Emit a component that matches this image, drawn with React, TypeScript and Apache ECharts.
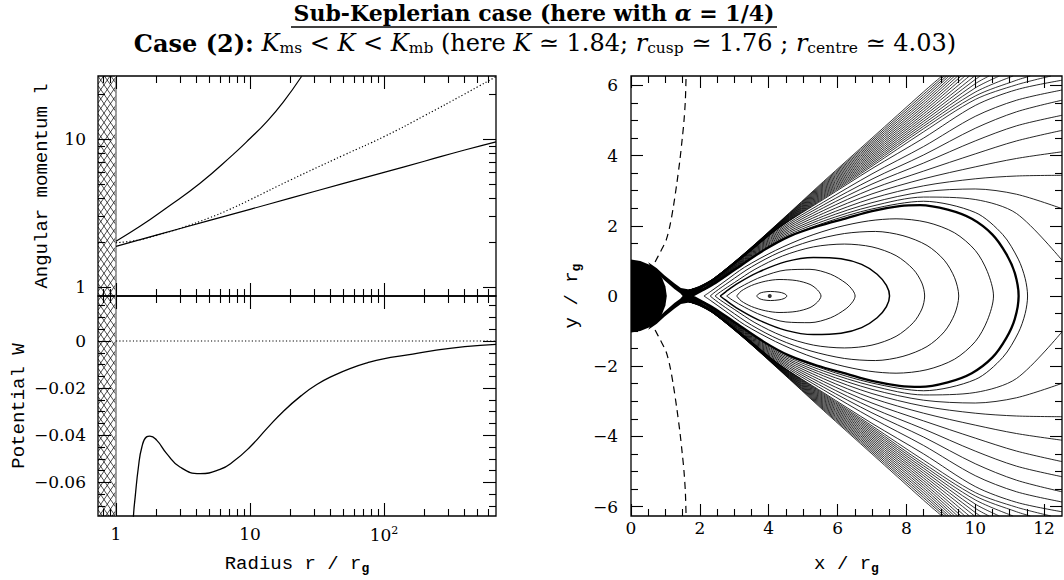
import React, { useEffect, useRef } from "react";
import * as echarts from "echarts";

type P = [number, number];

/* ---------------- Top-left panel: angular momentum l(r), log-log ---------------- */
const radiusSteep = [1, 1.51, 2.39, 4.24, 7.5, 10, 13.3, 17.7, 24.3];
const momentumSteep = [2.05, 2.58, 3.45, 5.04, 7.9, 10.1, 13.1, 17.8, 26.6];
const radiusPower = [1, 2, 5, 10, 20, 50, 100, 200, 400, 685];
const momentumPower = [1.89, 2.25, 2.83, 3.36, 4.0, 5.03, 5.97, 7.1, 8.45, 9.6];
const radiusKepler = [1, 1.3, 1.6, 2, 3, 5, 7, 10, 20, 50, 100, 200, 400, 685];
const momentumKepler = [2.0, 2.05, 2.12, 2.24, 2.5, 2.95, 3.35, 3.9, 5.3, 7.8, 10.4, 14.4, 20.2, 26.4];

/* ---------------- Bottom-left panel: potential W(r) ---------------- */
const radiusW = [1.33, 1.35, 1.39, 1.47, 1.56, 1.69, 1.79, 2.01, 2.39, 3.0, 4.24, 5.97, 7.5, 10, 13.5, 17.7, 24, 31.5, 42, 55.7, 75, 98.9, 150, 233, 400, 685];
const potentialW = [-0.085, -0.0743, -0.0663, -0.0535, -0.045, -0.0407, -0.0404, -0.0421, -0.0478, -0.0535, -0.0563, -0.0545, -0.0512, -0.045, -0.0369, -0.0299, -0.0233, -0.0185, -0.0147, -0.0117, -0.0093, -0.0076, -0.0059, -0.0041, -0.0024, -0.0014];
const radiusZero = [1, 685];
const potentialZero = [0, 0];
const horizonRadius = 1;

/* ---------------- Tick values ---------------- */
const radiusMajorTicks = [1, 10, 100];
const radiusMinorTicks = [0.8, 0.9, 2, 3, 4, 5, 6, 7, 8, 9, 20, 30, 40, 50, 60, 70, 80, 90, 200, 300, 400, 500, 600];
const momentumMajorTicks = [1, 10];
const momentumMinorTicks = [2, 3, 4, 5, 6, 7, 8, 9, 20];
const potentialMajorTicks = [0, -0.02, -0.04, -0.06];
const potentialMinorTicks = [0.015, 0.01, 0.005, -0.005, -0.01, -0.015, -0.025, -0.03, -0.035, -0.045, -0.05, -0.055, -0.065, -0.07];
const planeXMajorTicks = [0, 2, 4, 6, 8, 10, 12];
const planeXMinorTicks = [0.5, 1, 1.5, 2.5, 3, 3.5, 4.5, 5, 5.5, 6.5, 7, 7.5, 8.5, 9, 9.5, 10.5, 11, 11.5];
const planeYMajorTicks = [-6, -4, -2, 0, 2, 4, 6];
const planeYMinorTicks = [-5.5, -5, -4.5, -3.5, -3, -2.5, -1.5, -1, -0.5, 0.5, 1, 1.5, 2.5, 3, 3.5, 4.5, 5, 5.5];

/* ---------------- Right panel: equipotentials (upper halves, mirrored) ---------------- */
const blackHoleUpper: P[] = [[0, 1.04], [0.27, 1.0], [0.52, 0.9], [0.74, 0.74], [0.9, 0.52], [1.0, 0.27], [1.04, 0]];
const hornOuterUpper: P[] = [[0.5, 0.96], [0.75, 0.79], [0.97, 0.59], [1.26, 0.36], [1.45, 0.23], [1.65, 0.19], [1.85, 0.2], [2.05, 0.26]];
const hornNeckUpper: P[] = [[2.05, 0.15], [1.76, 0]];
const hornInnerUpper: P[] = [[0.55, 0.86], [0.75, 0.66], [0.97, 0.45], [1.26, 0.2], [1.43, 0.08], [1.5, 0]];

const closedC1: P[] = [[3.65, 0], [3.72, 0.07], [3.85, 0.11], [4.05, 0.13], [4.3, 0.11], [4.45, 0.07], [4.53, 0]];
const closedC2: P[] = [[3.07, 0], [3.2, 0.14], [3.5, 0.3], [3.9, 0.42], [4.3, 0.47], [4.8, 0.44], [5.2, 0.33], [5.42, 0.17], [5.52, 0]];
const closedC3: P[] = [[2.78, 0], [2.95, 0.12], [3.3, 0.32], [3.8, 0.55], [4.5, 0.74], [5.2, 0.76], [5.8, 0.62], [6.25, 0.36], [6.45, 0.15], [6.51, 0]];
const closedC4: P[] = [[2.59, 0], [2.75, 0.12], [3.1, 0.36], [3.7, 0.68], [4.5, 0.98], [5.3, 1.1], [6.1, 1.06], [6.7, 0.9], [7.15, 0.62], [7.42, 0.3], [7.51, 0]];
const closedC5: P[] = [[2.44, 0], [2.6, 0.12], [3.0, 0.38], [3.6, 0.76], [4.4, 1.14], [5.3, 1.4], [6.2, 1.48], [7.0, 1.4], [7.7, 1.15], [8.2, 0.76], [8.45, 0.37], [8.53, 0]];
const closedC6: P[] = [[2.3, 0], [2.45, 0.12], [2.85, 0.4], [3.5, 0.83], [4.3, 1.24], [5.2, 1.56], [6.2, 1.78], [7.1, 1.84], [7.9, 1.72], [8.6, 1.44], [9.1, 1.02], [9.4, 0.52], [9.52, 0]];
const closedC7: P[] = [[2.12, 0], [2.3, 0.12], [2.7, 0.4], [3.3, 0.82], [4.2, 1.3], [5.1, 1.68], [6.0, 1.96], [6.9, 2.14], [7.7, 2.2], [8.6, 2.1], [9.4, 1.8], [10.0, 1.3], [10.35, 0.7], [10.53, 0]];
const cuspContour: P[] = [[1.76, 0], [2.0, 0.12], [2.4, 0.34], [3.0, 0.74], [3.85, 1.3], [4.6, 1.7], [5.4, 1.98], [6.27, 2.22], [7.0, 2.42], [7.8, 2.56], [8.4, 2.59], [9.2, 2.46], [9.9, 2.2], [10.5, 1.75], [10.9, 1.2], [11.15, 0.65], [11.26, 0]];
const closedOuter: P[] = [[1.7, 0.17], [2.0, 0.14], [2.4, 0.355], [3.3, 0.95], [4.3, 1.58], [5.6, 2.08], [7.0, 2.48], [8.5, 2.7], [10.0, 2.38], [10.8, 1.75], [11.25, 1.05], [11.45, 0.5], [11.52, 0]];

const rightExitX = [1.7, 2.0, 2.4, 3.3, 4.3, 5.6, 7.0, 8.5, 10.0, 11.2, 12.52];
const rightExitY: number[][] = [
  [0.17, 0.185, 0.445, 1.13, 1.94, 2.76, 3.63, 4.5, 5.43, 5.88, 6.15],
  [0.17, 0.18, 0.435, 1.11, 1.9, 2.68, 3.48, 4.26, 5.12, 5.58, 5.87],
  [0.17, 0.175, 0.425, 1.09, 1.86, 2.6, 3.33, 4.02, 4.78, 5.25, 5.58],
  [0.17, 0.17, 0.415, 1.07, 1.82, 2.52, 3.19, 3.79, 4.42, 4.85, 5.15],
  [0.17, 0.165, 0.405, 1.05, 1.78, 2.44, 3.05, 3.56, 4.05, 4.42, 4.72],
  [0.17, 0.16, 0.395, 1.03, 1.74, 2.36, 2.91, 3.34, 3.68, 3.92, 4.11],
  [0.17, 0.155, 0.385, 1.01, 1.7, 2.28, 2.78, 3.14, 3.34, 3.42, 3.44],
  [0.17, 0.15, 0.375, 0.99, 1.66, 2.21, 2.66, 2.97, 3.05, 2.9, 2.49],
  [0.17, 0.145, 0.365, 0.97, 1.62, 2.14, 2.56, 2.82, 2.75, 2.35, 1.02],
];

const topExitLines: P[][] = [
  [[1.7, 0.17], [2.0, 0.28], [2.4, 0.5], [3.3, 1.22], [4.3, 2.1], [5.6, 3.27], [7.0, 4.5], [8.5, 5.82], [9.03, 6.27]],
  [[1.7, 0.17], [2.0, 0.275], [2.4, 0.497], [3.3, 1.215], [4.3, 2.09], [5.6, 3.24], [7.0, 4.45], [8.5, 5.75], [9.1, 6.27]],
  [[1.7, 0.17], [2.0, 0.27], [2.4, 0.494], [3.3, 1.21], [4.3, 2.08], [5.6, 3.21], [7.0, 4.4], [8.5, 5.68], [9.17, 6.27]],
  [[1.7, 0.17], [2.0, 0.265], [2.4, 0.491], [3.3, 1.205], [4.3, 2.07], [5.6, 3.18], [7.0, 4.35], [8.5, 5.61], [9.24, 6.27]],
  [[1.7, 0.17], [2.0, 0.26], [2.4, 0.488], [3.3, 1.2], [4.3, 2.06], [5.6, 3.15], [7.0, 4.3], [8.5, 5.54], [9.32, 6.27]],
  [[1.7, 0.17], [2.0, 0.255], [2.4, 0.485], [3.3, 1.195], [4.3, 2.05], [5.6, 3.12], [7.0, 4.25], [8.5, 5.47], [9.4, 6.27]],
  [[1.7, 0.17], [2.0, 0.25], [2.4, 0.482], [3.3, 1.19], [4.3, 2.04], [5.6, 3.09], [7.0, 4.2], [8.5, 5.4], [9.49, 6.27]],
  [[1.7, 0.17], [2.0, 0.245], [2.4, 0.479], [3.3, 1.185], [4.3, 2.03], [5.6, 3.06], [7.0, 4.15], [8.5, 5.33], [9.59, 6.27]],
  [[1.7, 0.17], [2.0, 0.24], [2.4, 0.476], [3.3, 1.18], [4.3, 2.02], [5.6, 3.03], [7.0, 4.1], [8.5, 5.26], [9.7, 6.27]],
  [[1.7, 0.17], [2.0, 0.235], [2.4, 0.473], [3.3, 1.175], [4.3, 2.01], [5.6, 3.0], [7.0, 4.05], [8.5, 5.19], [9.83, 6.27]],
  [[1.7, 0.17], [2.0, 0.23], [2.4, 0.47], [3.3, 1.17], [4.3, 2.0], [5.6, 2.97], [7.0, 4.0], [8.5, 5.12], [9.98, 6.27]],
  [[1.7, 0.17], [2.0, 0.225], [2.4, 0.467], [3.3, 1.165], [4.3, 1.99], [5.6, 2.94], [7.0, 3.95], [8.5, 5.05], [10.0, 6.17], [10.15, 6.27]],
  [[1.7, 0.17], [2.0, 0.22], [2.4, 0.464], [3.3, 1.16], [4.3, 1.98], [5.6, 2.91], [7.0, 3.9], [8.5, 4.98], [10.0, 6.05], [10.4, 6.27]],
  [[1.7, 0.17], [2.0, 0.215], [2.4, 0.461], [3.3, 1.155], [4.3, 1.97], [5.6, 2.88], [7.0, 3.85], [8.5, 4.91], [10.0, 5.93], [10.7, 6.27]],
  [[1.7, 0.17], [2.0, 0.21], [2.4, 0.458], [3.3, 1.15], [4.3, 1.96], [5.6, 2.85], [7.0, 3.8], [8.5, 4.84], [10.0, 5.81], [11.1, 6.27]],
  [[1.7, 0.17], [2.0, 0.205], [2.4, 0.455], [3.3, 1.145], [4.3, 1.95], [5.6, 2.82], [7.0, 3.75], [8.5, 4.77], [10.0, 5.7], [11.2, 6.15], [11.6, 6.27]],
  [[1.7, 0.17], [2.0, 0.2], [2.4, 0.452], [3.3, 1.14], [4.3, 1.945], [5.6, 2.79], [7.0, 3.7], [8.5, 4.68], [10.0, 5.6], [11.2, 6.02], [12.2, 6.27]],
];

const dashedUpper: P[] = [[0.7, 0.97], [0.85, 1.25], [1.02, 1.59], [1.13, 2.0], [1.23, 2.54], [1.33, 3.2], [1.42, 3.87], [1.49, 4.5], [1.54, 5.0], [1.58, 5.6], [1.6, 6.27]];
const centrePoint: P[] = [[4.03, 0]];

/* ---------------- helpers ---------------- */
const BLACK = "#000";
const zip = (xs: number[], ys: number[]): P[] => xs.map((x, i) => [x, ys[i]] as P);
const mirror = (pts: P[]): P[] => pts.map(([x, y]) => [x, -y] as P);
const closedLoop = (upper: P[]): P[] => [...upper, ...mirror(upper).reverse().slice(1)];

const supRich = { sup: { fontFamily: "DejaVu Serif", fontSize: 11, color: BLACK, padding: [0, 0, 9, 0] } };
const nameStyle = {
  fontFamily: "Liberation Mono",
  fontSize: 19,
  color: BLACK,
  rich: {
    t: { fontFamily: "Liberation Mono", fontSize: 19, color: BLACK },
    g: { fontFamily: "Liberation Mono", fontSize: 13, fontWeight: "bold", color: BLACK, padding: [10, 0, 0, 0] },
  },
};

interface AxisSpec {
  grid: number;
  type: "log" | "value";
  min: number;
  max: number;
  position: string;
  ticks: number[];
  len: number;
  labels?: boolean;
  formatter?: (v: number) => string;
  margin?: number;
  name?: string;
  nameGap?: number;
  nameRotate?: number;
}

const mkAxis = (o: AxisSpec) => ({
  type: o.type,
  gridIndex: o.grid,
  min: o.min,
  max: o.max,
  position: o.position,
  splitLine: { show: false },
  axisLine: { show: false, onZero: false },
  axisTick: { show: true, inside: true, length: o.len, lineStyle: { color: BLACK, width: 1.1 }, customValues: o.ticks },
  axisLabel: o.labels
    ? { show: true, customValues: o.ticks, formatter: o.formatter, margin: o.margin, color: BLACK, fontFamily: "DejaVu Serif", fontSize: 17, rich: supRich }
    : { show: false },
  name: o.name,
  nameLocation: "middle",
  nameGap: o.nameGap,
  nameRotate: o.nameRotate,
  nameTextStyle: nameStyle,
  silent: true,
  z: 5,
});

const fmtRadius = (v: number) => (v > 50 ? "10{sup|2}" : String(Math.round(v)));
const fmtMomentum = (v: number) => String(Math.round(v));
const fmtPotential = (v: number) => (Math.abs(v) < 1e-9 ? "0" : "\u2212" + Math.abs(v).toFixed(2));
const fmtPlane = (v: number) => (v < 0 ? "\u2212" + Math.abs(v) : String(v));

const R_MIN = 0.734, R_MAX = 685;
const L_MIN = 0.874, L_MAX = 26.7;
const W_MIN = -0.0743, W_MAX = 0.0191;
const X_MIN = 0, X_MAX = 12.52;
const Y_MIN = -6.27, Y_MAX = 6.27;

const hatchRender = (refY: number) => (params: any, api: any) => {
  const cs = params.coordSys;
  const xL = cs.x;
  const yT = cs.y;
  const yB = cs.y + cs.height;
  const xR = api.coord([horizonRadius, refY])[0];
  const s = 1.45;
  const step = 6.5;
  const children: any[] = [];
  const seg = (x1: number, y1: number, x2: number, y2: number) => ({
    type: "line",
    shape: { x1, y1, x2, y2 },
    style: { stroke: BLACK, lineWidth: 0.7 },
  });
  const cStart = Math.floor((xL - yB / s) / step) * step;
  for (let c = cStart; c < xR + yB / s + step; c += step) {
    const a0 = Math.max(c + yT / s, xL);
    const a1 = Math.min(c + yB / s, xR);
    if (a1 > a0) children.push(seg(a0, s * (a0 - c), a1, s * (a1 - c)));
    const b0 = Math.max(c - yB / s, xL);
    const b1 = Math.min(c - yT / s, xR);
    if (b1 > b0) children.push(seg(b0, s * (c - b0), b1, s * (c - b1)));
  }
  children.push({ type: "line", shape: { x1: xR, y1: yT, x2: xR, y2: yB }, style: { stroke: "#8a8a8a", lineWidth: 1.6 } });
  return { type: "group", children };
};

const polygonRender = (pts: P[]) => (_params: any, api: any) => ({
  type: "polygon",
  shape: { points: pts.map((p) => api.coord(p)) },
  style: { fill: BLACK },
});

const lineSeries = (data: P[], axisIdx: number, width = 1, extra: any = {}) => ({
  type: "line",
  xAxisIndex: axisIdx,
  yAxisIndex: axisIdx,
  data,
  showSymbol: false,
  symbol: "none",
  silent: true,
  clip: true,
  smooth: extra.smooth ?? 0.3,
  lineStyle: { color: BLACK, width, type: extra.type ?? "solid" },
  z: extra.z ?? 3,
});

function buildOption() {
  const blackHole: P[] = [...blackHoleUpper, ...mirror(blackHoleUpper).reverse().slice(1)];
  const horn: P[] = [
    ...hornOuterUpper,
    ...hornNeckUpper,
    ...mirror(hornNeckUpper).reverse().slice(1),
    ...mirror(hornOuterUpper).reverse(),
    ...mirror(hornInnerUpper).slice(0, -1),
    ...hornInnerUpper.slice().reverse(),
  ];

  const series: any[] = [];
  // left panels
  series.push({ type: "custom", xAxisIndex: 0, yAxisIndex: 0, data: [[1, 1]], renderItem: hatchRender(1), clip: true, silent: true, z: 2 });
  series.push({ type: "custom", xAxisIndex: 4, yAxisIndex: 4, data: [[1, 0]], renderItem: hatchRender(0), clip: true, silent: true, z: 2 });
  series.push(lineSeries(zip(radiusSteep, momentumSteep), 0, 1.2, { smooth: 0.5 }));
  series.push(lineSeries(zip(radiusPower, momentumPower), 0, 1.2, { smooth: 0.5 }));
  series.push(lineSeries(zip(radiusKepler, momentumKepler), 0, 1.2, { type: [1.2, 2.2], smooth: 0.5 }));
  series.push(lineSeries(zip(radiusZero, potentialZero), 4, 1.2, { type: [1.2, 2.2] }));
  series.push(lineSeries(zip(radiusW, potentialW), 4, 1.3, { smooth: 0.5 }));

  // right panel
  series.push({ type: "custom", xAxisIndex: 8, yAxisIndex: 8, data: [[0, 0]], renderItem: polygonRender(blackHole), clip: true, silent: true, z: 4 });
  series.push({ type: "custom", xAxisIndex: 8, yAxisIndex: 8, data: [[0, 0]], renderItem: polygonRender(horn), clip: true, silent: true, z: 4 });
  const closedThin = [closedC1, closedC2, closedC3, closedC5, closedC6, closedC7, closedOuter];
  closedThin.forEach((c) => series.push(lineSeries(closedLoop(c), 8, 0.9)));
  series.push(lineSeries(closedLoop(closedC4), 8, 1.5));
  series.push(lineSeries(closedLoop(cuspContour), 8, 2.3, { z: 4 }));
  rightExitY.forEach((ys) => {
    const upper = zip(rightExitX, ys);
    series.push(lineSeries(upper, 8, 0.85));
    series.push(lineSeries(mirror(upper), 8, 0.85));
  });
  topExitLines.forEach((upper) => {
    series.push(lineSeries(upper, 8, 0.8));
    series.push(lineSeries(mirror(upper), 8, 0.8));
  });
  series.push(lineSeries(dashedUpper, 8, 1.2, { type: [7, 5] }));
  series.push(lineSeries(mirror(dashedUpper), 8, 1.2, { type: [7, 5] }));
  series.push({
    type: "scatter",
    xAxisIndex: 8,
    yAxisIndex: 8,
    data: centrePoint,
    symbolSize: 4,
    itemStyle: { color: BLACK },
    silent: true,
    z: 6,
  });

  const xAxis = [
    mkAxis({ grid: 0, type: "log", min: R_MIN, max: R_MAX, position: "bottom", ticks: radiusMajorTicks, len: 13 }),
    mkAxis({ grid: 0, type: "log", min: R_MIN, max: R_MAX, position: "bottom", ticks: radiusMinorTicks, len: 7 }),
    mkAxis({ grid: 0, type: "log", min: R_MIN, max: R_MAX, position: "top", ticks: radiusMajorTicks, len: 13 }),
    mkAxis({ grid: 0, type: "log", min: R_MIN, max: R_MAX, position: "top", ticks: radiusMinorTicks, len: 7 }),
    mkAxis({
      grid: 1, type: "log", min: R_MIN, max: R_MAX, position: "bottom", ticks: radiusMajorTicks, len: 13,
      labels: true, formatter: fmtRadius, margin: 9, name: "{t|Radius r / r}{g|g}", nameGap: 36,
    }),
    mkAxis({ grid: 1, type: "log", min: R_MIN, max: R_MAX, position: "bottom", ticks: radiusMinorTicks, len: 7 }),
    mkAxis({ grid: 1, type: "log", min: R_MIN, max: R_MAX, position: "top", ticks: radiusMajorTicks, len: 13 }),
    mkAxis({ grid: 1, type: "log", min: R_MIN, max: R_MAX, position: "top", ticks: radiusMinorTicks, len: 7 }),
    mkAxis({
      grid: 2, type: "value", min: X_MIN, max: X_MAX, position: "bottom", ticks: planeXMajorTicks, len: 12,
      labels: true, formatter: fmtPlane, margin: 3, name: "{t|x / r}{g|g}", nameGap: 36,
    }),
    mkAxis({ grid: 2, type: "value", min: X_MIN, max: X_MAX, position: "bottom", ticks: planeXMinorTicks, len: 7 }),
    mkAxis({ grid: 2, type: "value", min: X_MIN, max: X_MAX, position: "top", ticks: planeXMajorTicks, len: 12 }),
    mkAxis({ grid: 2, type: "value", min: X_MIN, max: X_MAX, position: "top", ticks: planeXMinorTicks, len: 7 }),
  ];

  const yAxis = [
    mkAxis({
      grid: 0, type: "log", min: L_MIN, max: L_MAX, position: "left", ticks: momentumMajorTicks, len: 13,
      labels: true, formatter: fmtMomentum, margin: 12, name: "Angular momentum l", nameGap: 47, nameRotate: 90,
    }),
    mkAxis({ grid: 0, type: "log", min: L_MIN, max: L_MAX, position: "left", ticks: momentumMinorTicks, len: 7 }),
    mkAxis({ grid: 0, type: "log", min: L_MIN, max: L_MAX, position: "right", ticks: momentumMajorTicks, len: 13 }),
    mkAxis({ grid: 0, type: "log", min: L_MIN, max: L_MAX, position: "right", ticks: momentumMinorTicks, len: 7 }),
    mkAxis({
      grid: 1, type: "value", min: W_MIN, max: W_MAX, position: "left", ticks: potentialMajorTicks, len: 13,
      labels: true, formatter: fmtPotential, margin: 12, name: "Potential W", nameGap: 70, nameRotate: 90,
    }),
    mkAxis({ grid: 1, type: "value", min: W_MIN, max: W_MAX, position: "left", ticks: potentialMinorTicks, len: 7 }),
    mkAxis({ grid: 1, type: "value", min: W_MIN, max: W_MAX, position: "right", ticks: potentialMajorTicks, len: 13 }),
    mkAxis({ grid: 1, type: "value", min: W_MIN, max: W_MAX, position: "right", ticks: potentialMinorTicks, len: 7 }),
    mkAxis({
      grid: 2, type: "value", min: Y_MIN, max: Y_MAX, position: "left", ticks: planeYMajorTicks, len: 12,
      labels: true, formatter: fmtPlane, margin: 13, name: "{t|y / r}{g|g}", nameGap: 48, nameRotate: 90,
    }),
    mkAxis({ grid: 2, type: "value", min: Y_MIN, max: Y_MAX, position: "left", ticks: planeYMinorTicks, len: 7 }),
    mkAxis({ grid: 2, type: "value", min: Y_MIN, max: Y_MAX, position: "right", ticks: planeYMajorTicks, len: 12 }),
    mkAxis({ grid: 2, type: "value", min: Y_MIN, max: Y_MAX, position: "right", ticks: planeYMinorTicks, len: 7 }),
  ];

  const serif = "DejaVu Serif";
  const titleRich = {
    m: { fontFamily: serif, fontSize: 22, fontWeight: "bold", fontStyle: "italic", fill: BLACK },
  };
  const line2Rich = {
    b: { fontFamily: serif, fontSize: 24, fontWeight: "bold", fill: BLACK },
    n: { fontFamily: serif, fontSize: 24, fill: BLACK },
    i: { fontFamily: serif, fontSize: 24, fontStyle: "italic", fill: BLACK },
    s: { fontFamily: serif, fontSize: 15.5, fill: BLACK, padding: [10, 0, 0, 0] },
  };

  return {
    animation: false,
    backgroundColor: "#fff",
    textStyle: { fontFamily: serif },
    grid: [
      { left: 98, top: 76, width: 398, height: 220, show: true, borderColor: BLACK, borderWidth: 1.3, backgroundColor: "transparent" },
      { left: 98, top: 296, width: 398, height: 220, show: true, borderColor: BLACK, borderWidth: 1.3, backgroundColor: "transparent" },
      { left: 631, top: 76, width: 431, height: 440, show: true, borderColor: BLACK, borderWidth: 1.3, backgroundColor: "transparent" },
    ],
    xAxis,
    yAxis,
    series,
    graphic: [
      {
        type: "text",
        x: 534,
        y: 13,
        silent: true,
        style: {
          text: "Sub-Keplerian case (here with {m|\u03b1} = 1/4)",
          fontFamily: serif,
          fontSize: 22,
          fontWeight: "bold",
          fill: BLACK,
          align: "center",
          verticalAlign: "middle",
          rich: titleRich,
        },
      },
      { type: "line", silent: true, shape: { x1: 291, y1: 27, x2: 777, y2: 27 }, style: { stroke: BLACK, lineWidth: 1.3 } },
      {
        type: "text",
        x: 545,
        y: 43,
        silent: true,
        style: {
          text:
            "{b|Case (2):} {i|K}{s|ms}{n| < }{i|K}{n| < }{i|K}{s|mb}{n| (here }{i|K}{n| \u2243 1.84; }{i|r}{s|cusp}{n| \u2243 1.76 ; }{i|r}{s|centre}{n| \u2243 4.03)}",
          fontFamily: serif,
          fontSize: 24,
          fill: BLACK,
          align: "center",
          verticalAlign: "middle",
          rich: line2Rich,
        },
      },
    ],
  };
}

export default function App() {
  const ref = useRef<HTMLDivElement>(null);
  useEffect(() => {
    if (!ref.current) return;
    const chart = echarts.init(ref.current, undefined, { renderer: "svg" });
    chart.setOption(buildOption() as any);
    return () => chart.dispose();
  }, []);
  return (
    <div
      ref={ref}
      style={{ position: "fixed", left: 0, top: 0, width: 1064, height: 580, background: "#fff" }}
    />
  );
}
